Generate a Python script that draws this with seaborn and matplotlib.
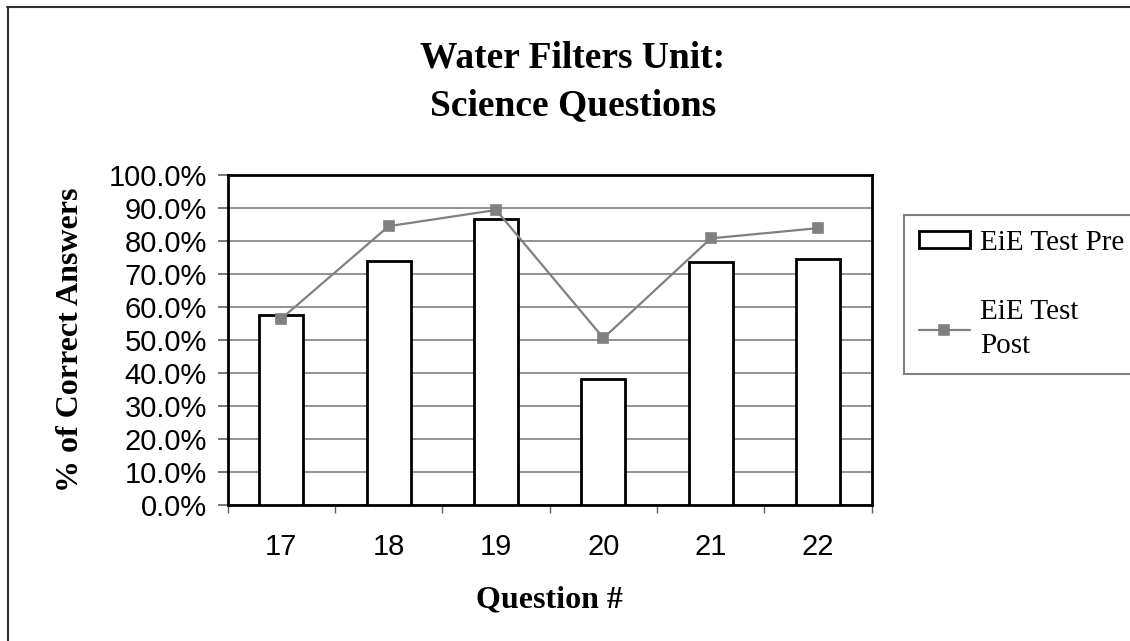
import matplotlib
matplotlib.use("Agg")
import matplotlib.pyplot as plt
import seaborn as sns
import pandas as pd
from matplotlib.lines import Line2D
from matplotlib.ticker import PercentFormatter, FixedLocator

sns.set_style("white")
plt.rcParams["text.color"] = "black"
plt.rcParams["axes.labelcolor"] = "black"
plt.rcParams["xtick.color"] = "black"
plt.rcParams["ytick.color"] = "black"

# data
questions = ["17", "18", "19", "20", "21", "22"]
pre_scores = [0.576, 0.740, 0.867, 0.382, 0.735, 0.746]
post_scores = [0.565, 0.845, 0.894, 0.506, 0.808, 0.839]

df = pd.DataFrame({"question": questions, "pre": pre_scores, "post": post_scores})

serif = "Liberation Serif"
sans = "Liberation Sans"

fig = plt.figure(figsize=(11.3, 6.41), dpi=100)
ax = fig.add_axes([0.2015, 0.212, 0.570, 0.515])

sns.barplot(data=df, x="question", y="pre", color="white", edgecolor="black",
            linewidth=2, width=0.41, label="EiE Test Pre", ax=ax, zorder=3)
sns.pointplot(data=df, x="question", y="post", color="#808080", markers="s",
              markersize=7.5, linewidth=1.6, label="EiE Test\nPost", ax=ax, zorder=4)

ax.set_xlim(-0.5, 5.5)
ax.set_ylim(0, 1.0)
ax.yaxis.set_major_locator(FixedLocator([i / 10 for i in range(11)]))
ax.yaxis.set_major_formatter(PercentFormatter(1.0, decimals=1))
ax.grid(axis="y", color="#808080", linewidth=1.2, zorder=0)
ax.set_axisbelow(True)

# Excel style: ticks between categories, labels in the middle
ax.set_xticks([i - 0.5 for i in range(7)])
ax.set_xticklabels([])
ax.set_xticks(range(6), minor=True)
ax.set_xticklabels(questions, minor=True)
ax.tick_params(axis="x", which="major", direction="out", length=6, width=1, color="#606060", bottom=True)
ax.tick_params(axis="x", which="minor", length=0, pad=20, labelsize=21)
ax.tick_params(axis="y", direction="out", length=7, width=1.2, color="#606060", left=True, pad=8, labelsize=21)
for lab in ax.get_xticklabels(minor=True) + ax.get_yticklabels():
    lab.set_fontfamily(sans)

for sp in ax.spines.values():
    sp.set_color("black")
    sp.set_linewidth(2)

ax.set_xlabel("Question #", fontfamily=serif, fontweight="bold", fontsize=23, labelpad=18)
ax.set_ylabel("% of Correct Answers", fontfamily=serif, fontweight="bold", fontsize=23)
ax.yaxis.set_label_coords(-0.222, 0.5)

fig.text(0.507, 1 - 82 / 641, "Water Filters Unit:\nScience Questions", ha="center", va="center",
         fontfamily=serif, fontweight="bold", fontsize=27, linespacing=1.45)

handles, labels = ax.get_legend_handles_labels()
order = [labels.index("EiE Test Pre"), labels.index("EiE Test\nPost")]
leg = ax.legend([handles[i] for i in order], [labels[i] for i in order],
                loc="upper left", bbox_to_anchor=(904 / 1130, 1 - 215 / 641),
                bbox_transform=fig.transFigure, frameon=True, fancybox=False,
                prop={"family": serif, "size": 21}, handlelength=1.75, handleheight=0.5,
                labelspacing=1.5, borderpad=0.5, handletextpad=0.35, borderaxespad=0)
for t in leg.get_texts():
    t.set_linespacing(1.4)
leg.get_frame().set_edgecolor("#606060")
leg.get_frame().set_linewidth(1.5)

# outer chart border (only top and left edges visible in the original)
fig.add_artist(Line2D([7 / 1130, 1], [1 - 7 / 641, 1 - 7 / 641], transform=fig.transFigure,
                      color="#303030", linewidth=1.5))
fig.add_artist(Line2D([7.5 / 1130, 7.5 / 1130], [0, 1 - 7 / 641], transform=fig.transFigure,
                      color="#303030", linewidth=1.5))

plt.savefig("out.png", dpi=100)
